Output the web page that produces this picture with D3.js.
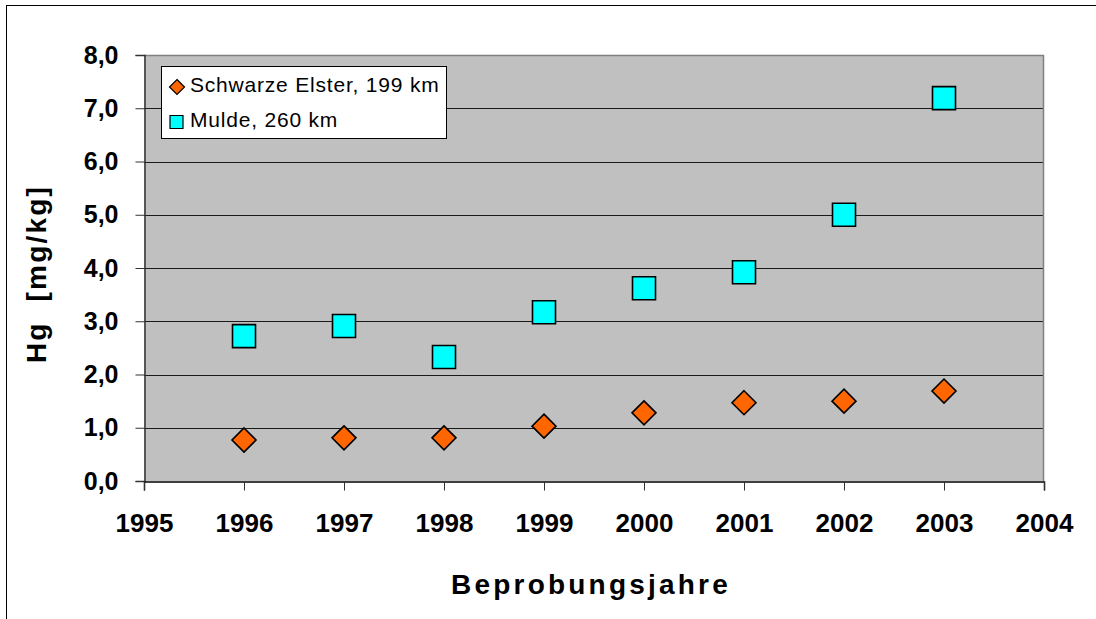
<!DOCTYPE html>
<html><head><meta charset="utf-8">
<script src="https://cdn.jsdelivr.net/npm/d3@7"></script>
<style>
html,body{margin:0;padding:0;background:#fff;}
svg{display:block;font-family:"Liberation Sans",Arial,sans-serif;}
</style></head>
<body>
<svg id="chart" width="1096" height="619"></svg>
<script>
const years = [1996, 1997, 1998, 1999, 2000, 2001, 2002, 2003];
const elster = [0.77, 0.81, 0.81, 1.03, 1.28, 1.47, 1.50, 1.69];
const mulde = [2.72, 2.91, 2.33, 3.17, 3.62, 3.92, 5.00, 7.19];
const seriesNames = ["Schwarze Elster, 199 km", "Mulde, 260 km"];
const xTicks = [1995, 1996, 1997, 1998, 1999, 2000, 2001, 2002, 2003, 2004];
const yTicks = [0, 1, 2, 3, 4, 5, 6, 7, 8];
const xTitle = "Beprobungsjahre";
const yTitle = "Hg  [mg/kg]";

const svg = d3.select("#chart");
const L = 144, R = 1044, T = 55, B = 481;
const x = d3.scaleLinear().domain([1995, 2004]).range([L, R]);
const y = d3.scaleLinear().domain([0, 8]).range([B, T]);

// outer border
svg.append("rect").attr("x", 6.5).attr("y", 5.5).attr("width", 1200).attr("height", 700)
  .attr("fill", "#fff").attr("stroke", "#000").attr("stroke-width", 1);

// plot area
svg.append("rect").attr("x", L).attr("y", T).attr("width", R - L).attr("height", B - T)
  .attr("fill", "#c0c0c0");

// gridlines
svg.append("g").selectAll("line").data(yTicks.filter(d => d > 0 && d < 8)).join("line")
  .attr("x1", L).attr("x2", R)
  .attr("y1", d => Math.round(y(d)) + 0.5).attr("y2", d => Math.round(y(d)) + 0.5)
  .attr("stroke", "#1a1a1a").attr("stroke-width", 1);

// top/right border gray
svg.append("path").attr("d", `M${L},${T + 0.5}H${R - 0.5}V${B}`)
  .attr("fill", "none").attr("stroke", "#808080").attr("stroke-width", 1.5);

// axes
const yAxis = d3.axisLeft(y).tickValues(yTicks).tickSize(9).tickPadding(17)
  .tickFormat(d => d3.format(".1f")(d).replace(".", ","));
const gy = svg.append("g").attr("transform", `translate(${L + 0.5},0)`).call(yAxis);
gy.select(".domain").attr("stroke", "#333").attr("stroke-width", 1.5);
gy.selectAll(".tick line").attr("stroke", "#333");
gy.selectAll(".tick text").attr("font-size", 25).attr("font-weight", "bold")
  .attr("fill", "#000").attr("font-family", "'Liberation Sans',Arial,sans-serif");

const xAxis = d3.axisBottom(x).tickValues(xTicks).tickSize(9).tickPadding(23)
  .tickFormat(d3.format("d"));
const gx = svg.append("g").attr("transform", `translate(0,${B + 0.5})`).call(xAxis);
gx.select(".domain").attr("stroke", "#000").attr("stroke-width", 1.5);
gx.selectAll(".tick line").attr("stroke", "#333");
gx.selectAll(".tick text").attr("font-size", 26).attr("font-weight", "bold")
  .attr("fill", "#000").attr("font-family", "'Liberation Sans',Arial,sans-serif");

// markers
const diamond = (cx, cy, h) => `M${cx},${cy - h}L${cx + h},${cy}L${cx},${cy + h}L${cx - h},${cy}Z`;
const square = (cx, cy, h) => `M${cx - h},${cy - h}H${cx + h}V${cy + h}H${cx - h}Z`;

svg.append("g").selectAll("path").data(years.map((yr, i) => [yr, mulde[i]])).join("path")
  .attr("d", d => square(x(d[0]), y(d[1]), 11.5))
  .attr("fill", "#00ffff").attr("stroke", "#000").attr("stroke-width", 1.6);

svg.append("g").selectAll("path").data(years.map((yr, i) => [yr, elster[i]])).join("path")
  .attr("d", d => diamond(x(d[0]), y(d[1]), 12))
  .attr("fill", "#ff6600").attr("stroke", "#000").attr("stroke-width", 1.6);

// legend
const lg = svg.append("g");
lg.append("rect").attr("x", 161.5).attr("y", 66.5).attr("width", 285).attr("height", 72)
  .attr("fill", "#fff").attr("stroke", "#000").attr("stroke-width", 1);
lg.append("path").attr("d", diamond(177, 87, 7.5))
  .attr("fill", "#ff6600").attr("stroke", "#000").attr("stroke-width", 1.2);
lg.append("path").attr("d", square(176.5, 122, 6.5))
  .attr("fill", "#00ffff").attr("stroke", "#000").attr("stroke-width", 1.2);
lg.selectAll("text").data(seriesNames).join("text")
  .attr("x", 190).attr("y", (d, i) => 92 + i * 35)
  .attr("font-size", 21).attr("letter-spacing", 0.8).attr("fill", "#000")
  .text(d => d);

// axis titles
svg.append("text").attr("x", 591).attr("y", 594).attr("text-anchor", "middle")
  .attr("font-size", 28).attr("font-weight", "bold").attr("letter-spacing", 3.2)
  .text(xTitle);
svg.append("text").attr("transform", "translate(46,274) rotate(-90)").attr("text-anchor", "middle")
  .attr("font-size", 28).attr("font-weight", "bold").attr("letter-spacing", 2.2)
  .style("white-space", "pre")
  .text(yTitle);
</script>
</body></html>
